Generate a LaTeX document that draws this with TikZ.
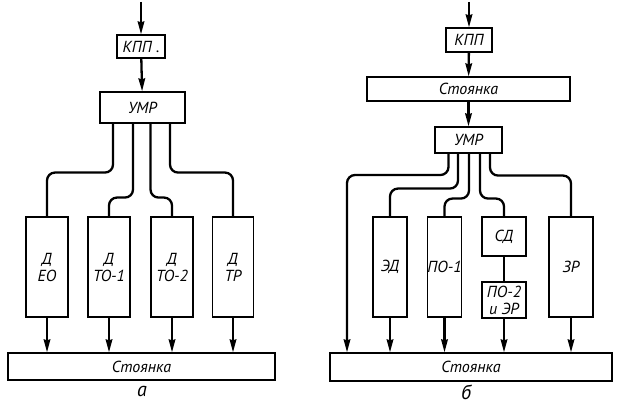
\documentclass[tikz,border=0pt]{standalone}
\usepackage{fontspec}
\setmainfont{PT Sans}
\usetikzlibrary{positioning, arrows.meta, calc}

\begin{document}
\begin{tikzpicture}[x=1pt, y=-1pt, font=\itshape\fontsize{16}{17}\selectfont,
  blk/.style={draw, line width=1.1pt, inner sep=0pt, align=center},
  flow/.style={line width=2.3pt, rounded corners=8pt},
  arr/.style={line width=2.3pt, -{Stealth[length=13pt, width=6.5pt, inset=1pt]}},
  schemecap/.style={font=\itshape\fontsize{20}{20}\selectfont}
]
  \useasboundingbox (0,0) rectangle (617,406);

  % --- scheme a ---
  \coordinate (inA) at (141,2);
  \node[blk, minimum width=48pt, minimum height=23pt] (kppA) at (141,46.5) {КПП .};
  \node[blk, minimum width=85pt, minimum height=31pt] (umrA) at (142.5,107.5) {УМР};
  \node[blk, minimum width=42pt, minimum height=100pt] (deo) at (47,267) {Д\\ЕО};
  \node[blk, minimum width=42pt, minimum height=100pt] (to1) at (109,267) {Д\\ТО-1};
  \node[blk, minimum width=42pt, minimum height=100pt] (to2) at (172,267) {Д\\ТО-2};
  \node[blk, minimum width=41pt, minimum height=100pt] (tr) at (233,267) {Д\\ТР};
  \node[blk, minimum width=267pt, minimum height=27pt] (stA) at (141.5,366.5) {Стоянка};
  \node[schemecap] (capA) at (142,391) {а};

  \draw[arr] (inA) -- (kppA);
  \draw[arr] (kppA) -- (umrA);
  \draw[flow] ([xshift=-29.5pt]umrA.south) -- ++(0,49) -| (deo.north);
  \draw[flow] ([xshift=-9.5pt]umrA.south) -- ++(0,74) -| (to1.north);
  \draw[flow] ([xshift=8pt]umrA.south) -- ++(0,74) -| (to2.north);
  \draw[flow] ([xshift=27.5pt]umrA.south) -- ++(0,49) -| (tr.north);
  \foreach \b in {deo, to1, to2, tr}
    \draw[arr] (\b.south) -- (\b.south |- stA.north);

  % --- scheme b ---
  \coordinate (inB) at (469,2);
  \node[blk, minimum width=46pt, minimum height=24pt] (kppB) at (469,40) {КПП};
  \node[blk, minimum width=203pt, minimum height=24pt] (stTop) at (468.5,89) {Стоянка};
  \node[blk, minimum width=67pt, minimum height=26pt] (umrB) at (468.5,140) {УМР};
  \node[blk, minimum width=34pt, minimum height=100pt] (zd) at (390,267) {ЭД};
  \node[blk, minimum width=34pt, minimum height=100pt] (po1) at (444.5,267) {ПО-1};
  \node[blk, minimum width=44pt, minimum height=39pt] (sd) at (504,236.5) {СД};
  \node[blk, minimum width=44pt, minimum height=36pt] (po2) at (504,300) {ПО-2\\и ЭР};
  \node[blk, minimum width=44pt, minimum height=100pt] (zr) at (571,267) {ЗР};
  \node[blk, minimum width=282pt, minimum height=28pt] (stB) at (471,367) {Стоянка};
  \node[schemecap] (capB) at (466,392) {б};
  \coordinate (byp) at (347,175);

  \draw[arr] (inB) -- (kppB);
  \draw[arr] (kppB) -- (stTop);
  \draw[arr] (stTop) -- (umrB);
  \draw[arr, rounded corners=8pt] ([xshift=-20pt]umrB.south) |- (byp) -- (byp |- stB.north);
  \draw[flow] ([xshift=-10.5pt]umrB.south) -- ++(0,35) -| (zd.north);
  \draw[flow] ([xshift=0.5pt]umrB.south) -- ++(0,45) -| (po1.north);
  \draw[flow] ([xshift=11.5pt]umrB.south) -- ++(0,45) -| (sd.north);
  \draw[flow] ([xshift=21.5pt]umrB.south) -- ++(0,22) -| (zr.north);
  \draw[flow] (sd) -- (po2);
  \foreach \b in {zd, po1, po2, zr}
    \draw[arr] (\b.south) -- (\b.south |- stB.north);
\end{tikzpicture}
\end{document}
